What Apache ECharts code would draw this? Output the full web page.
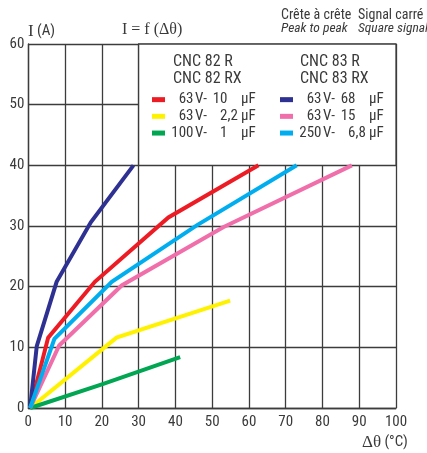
<!DOCTYPE html>
<html>
<head>
<meta charset="utf-8">
<script src="https://cdn.jsdelivr.net/npm/echarts@6/dist/echarts.min.js"></script>
<style>
  html, body { margin: 0; padding: 0; background: #fff; }
  #chart { width: 427px; height: 453px; }
</style>
</head>
<body>
<div id="chart"></div>
<script>
// Axis ticks
const xTicks = [0, 10, 20, 30, 40, 50, 60, 70, 80, 90, 100];
const yTicks = [0, 10, 20, 30, 40, 50, 60];

// Capacitor families and their ratings (voltage, integer part, decimal part)
const groupA = ['CNC 82 R', 'CNC 82 RX'];
const groupB = ['CNC 83 R', 'CNC 83 RX'];

const namesA = ['63 V- 10 µF', '63 V- 2,2 µF', '100 V- 1 µF'];
const voltsA = ['63', '63', '100'];
const intA = ['10', '2', '1'];
const decA = ['', ',2', ''];
const colorsA = ['#ed1c24', '#fff200', '#00a651'];

const namesB = ['63 V- 68 µF', '63 V- 15 µF', '250 V- 6,8 µF'];
const voltsB = ['63', '63', '250'];
const intB = ['68', '15', '6'];
const decB = ['', '', ',8'];
const colorsB = ['#2e3192', '#f06eaa', '#00aeef'];

// Current I (A) versus temperature rise Δθ (°C): [Δθ, I]
const red10uF = [[0.5, 0], [5.4, 11.6], [18.1, 20.8], [38.1, 31.4], [62.6, 40]];
const yellow2u2F = [[0.5, 0], [24, 11.6], [54.9, 17.7]];
const green1uF = [[0.5, 0], [20, 3.9], [41.3, 8.4]];
const blue68uF = [[0.5, 0], [2.3, 10.2], [7.7, 20.8], [17, 30.6], [28.6, 40]];
const pink15uF = [[0.5, 0], [8.4, 10.3], [25.4, 20.2], [53, 29.8], [88, 40]];
const cyan6u8F = [[0.5, 0], [7.1, 11.4], [22.7, 20.8], [45.8, 30.1], [73, 40]];

const curvesA = [red10uF, yellow2u2F, green1uF];
const curvesB = [blue68uF, pink15uF, cyan6u8F];

// Box holding the legend, in data units
const legendBox = { x0: 30, x1: 100, y0: 40, y1: 60 };

const SANS = '"Roboto Condensed", "Liberation Sans", sans-serif';
const SERIF = '"Liberation Serif", "DejaVu Serif", serif';
const INK = '#3a3a3a';
const GRID = '#3c3c3c';
const LEGEND_FONT = 15;
const ROW = 16.7;

// Text measuring, used to line up the rating columns of the legend
const measureCtx = document.createElement('canvas').getContext('2d');
function textWidth(t) {
  measureCtx.font = LEGEND_FONT + 'px ' + SANS;
  return measureCtx.measureText(t).width;
}

// Column stops (px from the start of the legend text)
const COL_VOLT_RIGHT = 23.5;
const COL_V_LEFT = 25;
const COL_INT_RIGHT = 57.5;
const COL_UNIT_LEFT = 71;

const txt = { fontFamily: SANS, fontSize: LEGEND_FONT, color: INK, lineHeight: ROW };
const richRating = { t: Object.assign({}, txt) };
const labelMap = {};
let gapId = 0;
function gap(w) {
  const key = 'g' + (gapId++);
  richRating[key] = Object.assign({ width: Math.max(0, w) }, txt);
  return '{' + key + '|\u200b}';
}
function ratingLabels(names, volts, ints, decs) {
  names.forEach((n, i) => {
    const wv = textWidth(volts[i]);
    const wV = textWidth('V-');
    const wi = textWidth(ints[i]);
    const wd = textWidth(decs[i]);
    let s = gap(COL_VOLT_RIGHT - wv) + '{t|' + volts[i] + '}';
    s += gap(COL_V_LEFT - COL_VOLT_RIGHT) + '{t|V-}';
    s += gap(COL_INT_RIGHT - wi - COL_V_LEFT - wV) + '{t|' + ints[i] + '}';
    if (decs[i]) s += '{t|' + decs[i] + '}';
    s += gap(COL_UNIT_LEFT - COL_INT_RIGHT - wd) + '{t|µF}';
    labelMap[n] = s;
  });
}
ratingLabels(namesA, voltsA, intA, decA);
ratingLabels(namesB, voltsB, intB, decB);

function makeLegend(names, left) {
  return {
    data: names,
    orient: 'vertical',
    left: left,
    top: 91.3,
    padding: 0,
    itemWidth: 13,
    itemHeight: 5,
    itemGap: 0,
    icon: 'rect',
    selectedMode: false,
    z: 20,
    formatter: n => labelMap[n],
    textStyle: Object.assign({ rich: richRating }, txt)
  };
}

function lineSeries(name, data, color) {
  return {
    name: name,
    type: 'line',
    data: data,
    symbol: 'none',
    color: color,
    lineStyle: { width: 4, color: color, cap: 'butt', join: 'miter' },
    z: 3
  };
}

const series = [];
namesA.forEach((n, i) => series.push(lineSeries(n, curvesA[i], colorsA[i])));
namesB.forEach((n, i) => series.push(lineSeries(n, curvesB[i], colorsB[i])));

// White legend panel drawn on the plot scales
series.push({
  type: 'line',
  data: [],
  silent: true,
  z: 2,
  markArea: {
    silent: true,
    itemStyle: { color: '#ffffff', borderColor: GRID, borderWidth: 1.3 },
    data: [[{ coord: [legendBox.x0, legendBox.y1] }, { coord: [legendBox.x1, legendBox.y0] }]]
  }
});

function label(left, top, text, size, extra) {
  return {
    type: 'text', z: 100, left: left, top: top,
    style: Object.assign({ text: text, fontFamily: SANS, fontSize: size, fill: INK }, extra || {})
  };
}

const chart = echarts.init(document.getElementById('chart'), null, { renderer: 'canvas' });
chart.setOption({
  animation: false,
  backgroundColor: '#ffffff',
  grid: { left: 28.3, right: 31, top: 44, bottom: 45 },
  xAxis: {
    type: 'value',
    min: xTicks[0],
    max: xTicks[xTicks.length - 1],
    interval: 10,
    axisLine: { show: true, lineStyle: { color: GRID, width: 1.3 } },
    axisTick: { show: false },
    splitLine: { show: true, lineStyle: { color: GRID, width: 1.3 } },
    axisLabel: { color: INK, fontFamily: SANS, fontSize: 15, margin: 7 }
  },
  yAxis: {
    type: 'value',
    min: yTicks[0],
    max: yTicks[yTicks.length - 1],
    interval: 10,
    axisLine: { show: true, lineStyle: { color: GRID, width: 1.3 } },
    axisTick: { show: false },
    splitLine: { show: true, lineStyle: { color: GRID, width: 1.3 } },
    axisLabel: { color: INK, fontFamily: SANS, fontSize: 15, margin: 4 }
  },
  legend: [makeLegend(namesA, 152), makeLegend(namesB, 280)],
  graphic: {
    elements: [
      label(173, 54, groupA.join('\n'), 16, { lineHeight: ROW }),
      label(300, 54, groupB.join('\n'), 16, { lineHeight: ROW }),
      { type: 'text', z: 100, left: 28, top: 23, style: {
          text: '{a|I} {b|(A)}',
          rich: { a: { fontFamily: SERIF, fontSize: 17, fill: INK }, b: { fontFamily: SANS, fontSize: 15, fill: INK } } } },
      { type: 'text', z: 100, left: 122, top: 22, style: { text: 'I = f (Δθ)', fontFamily: SERIF, fontSize: 16, fill: INK } },
      label(281, 8, 'Crête à crête', 14),
      label(281, 22, 'Peak to peak', 13.5, { fontStyle: 'italic' }),
      label(358, 8, 'Signal carré', 14),
      label(358, 22, 'Square signal', 13.5, { fontStyle: 'italic' }),
      { type: 'text', z: 100, left: 362, top: 434, style: {
          text: '{a|Δθ} {b|(°C)}',
          rich: { a: { fontFamily: SERIF, fontSize: 17, fill: INK }, b: { fontFamily: SANS, fontSize: 15, fill: INK } } } }
    ]
  },
  series: series
});
</script>
</body>
</html>
